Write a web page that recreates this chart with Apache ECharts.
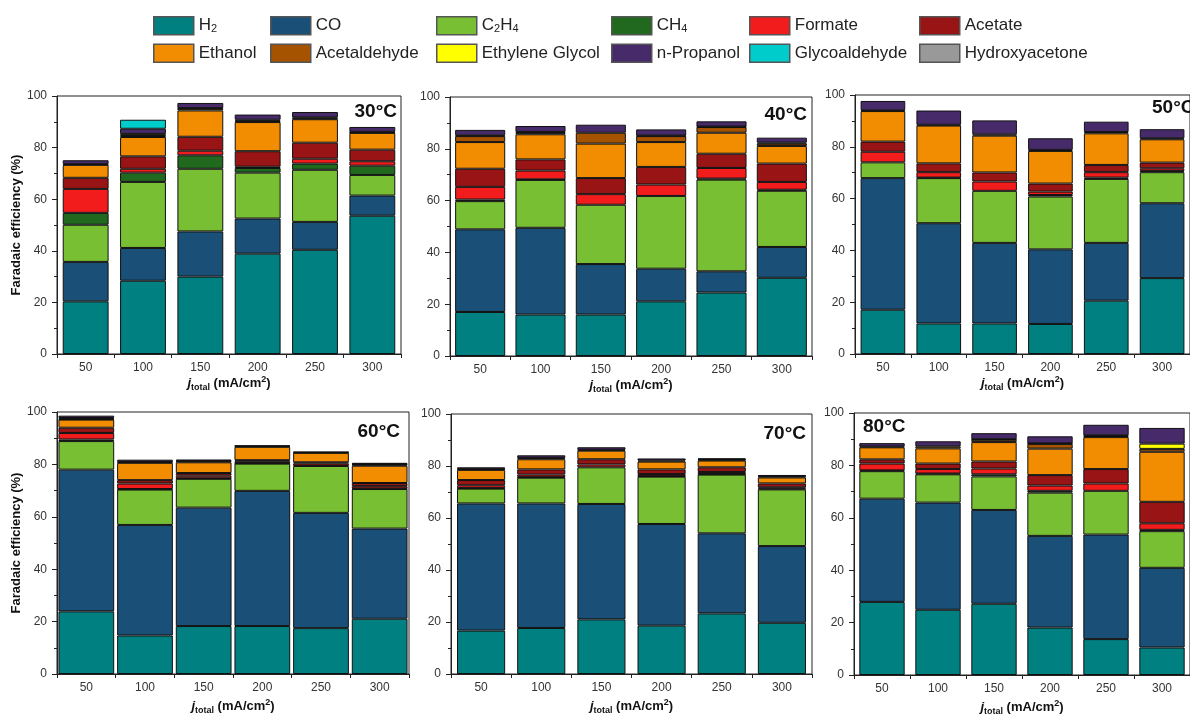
<!DOCTYPE html>
<html>
<head>
<meta charset="utf-8">
<script src="https://cdn.jsdelivr.net/npm/echarts@6/dist/echarts.min.js"></script>
<style>
html,body{margin:0;padding:0;background:#fff;}
#c{width:1190px;height:717px;}
</style>
</head>
<body>
<div id="c"></div>
<script>
// ---- data ----
const categories = ['50', '100', '150', '200', '250', '300'];
const temperatures = ['30°C', '40°C', '50°C', '60°C', '70°C', '80°C'];
const yTicks = [0, 20, 40, 60, 80, 100];
const productNames = ['H2', 'CO', 'C2H4', 'CH4', 'Formate', 'Acetate', 'Ethanol', 'Acetaldehyde', 'Ethylene Glycol', 'n-Propanol', 'Glycoaldehyde', 'Hydroxyacetone'];
const productColors = ['#008080', '#1a4f77', '#78bf33', '#21691f', '#f21c1c', '#991414', '#f28c00', '#a65300', '#ffff00', '#472a6a', '#00cccc', '#999999'];

// each row: one temperature panel (30..80 °C), values for j = 50..300
const H2 = [
  [20.4, 28.4, 30.0, 38.9, 40.4, 53.6],
  [17.0, 16.0, 16.0, 21.1, 24.5, 30.2],
  [17.1, 11.8, 11.8, 11.6, 20.6, 29.3],
  [23.9, 14.7, 18.3, 18.3, 17.5, 21.1],
  [16.7, 17.7, 21.0, 18.6, 23.3, 19.7],
  [27.9, 24.9, 27.2, 18.1, 13.7, 10.5]
];
const CO = [
  [15.3, 12.7, 17.5, 13.6, 10.8, 7.8],
  [31.9, 33.5, 19.5, 12.6, 8.2, 11.9],
  [50.8, 38.7, 31.1, 28.8, 22.3, 28.9],
  [54.1, 42.2, 45.2, 51.6, 44.0, 34.4],
  [48.9, 47.9, 44.4, 39.1, 30.8, 29.5],
  [39.4, 40.9, 35.8, 35.0, 39.9, 30.4]
];
const C2H4 = [
  [14.4, 25.6, 24.3, 17.8, 20.2, 8.0],
  [10.9, 18.5, 22.9, 28.1, 35.4, 21.7],
  [6.1, 17.4, 20.1, 20.4, 24.7, 12.0],
  [10.9, 13.5, 11.0, 10.4, 17.9, 15.1],
  [5.7, 9.9, 14.1, 18.2, 22.6, 21.8],
  [10.5, 10.8, 12.8, 16.5, 16.7, 14.0]
];
const CH4 = [
  [4.6, 3.6, 5.2, 1.8, 2.4, 3.6],
  [0.6, 0.2, 0, 0, 0.4, 0.4],
  [0, 0.2, 0, 0.6, 0.5, 0.5],
  [0.6, 0.2, 0.2, 0.2, 0, 0.2],
  [0.2, 0.2, 0, 0.2, 0.2, 0.3],
  [0.3, 0.3, 0.8, 0.7, 0, 0.5]
];
const Formate = [
  [9.3, 1.5, 1.8, 0.5, 1.9, 1.7],
  [4.9, 3.4, 4.1, 4.4, 4.1, 3.0],
  [4.1, 2.1, 3.6, 1.3, 2.1, 1.0],
  [2.5, 2.1, 1.0, 0.7, 0.9, 0.9],
  [1.1, 1.0, 1.1, 0.8, 0.8, 0.5],
  [2.6, 1.7, 2.2, 2.0, 2.8, 2.5]
];
const Acetate = [
  [4.3, 4.8, 5.4, 6.0, 6.2, 4.5],
  [7.0, 4.3, 6.2, 6.8, 5.5, 7.1],
  [3.9, 3.4, 3.5, 3.1, 2.8, 2.2],
  [2.0, 1.3, 1.0, 0.4, 0.5, 1.2],
  [2.0, 2.0, 2.0, 1.8, 1.8, 1.5],
  [1.6, 2.1, 2.7, 4.0, 5.5, 8.2]
];
const Ethanol = [
  [5.0, 7.5, 10.2, 11.3, 9.1, 6.5],
  [10.3, 9.7, 13.3, 9.6, 8.1, 6.8],
  [11.8, 14.6, 14.2, 12.6, 12.2, 9.0],
  [3.1, 6.6, 4.1, 5.1, 3.6, 6.6],
  [3.9, 3.9, 3.3, 3.0, 2.6, 2.3],
  [4.6, 5.8, 7.4, 10.1, 12.2, 19.1]
];
const Acetaldehyde = [
  [0.3, 0.4, 0.7, 0.5, 0.3, 0.2],
  [2.3, 0.6, 4.2, 2.3, 2.2, 0.9],
  [0.3, 0.3, 0.5, 0.4, 0.5, 0.4],
  [0.2, 0.3, 0.4, 0.3, 0.2, 0.4],
  [0.3, 0.5, 0.3, 0.4, 0.3, 0.4],
  [0.3, 0.8, 0.9, 1.8, 0.4, 1.1]
];
const EthyleneGlycol = [
  [0, 0.8, 0.2, 0.4, 0.4, 0.2],
  [0.3, 0.3, 0, 0.2, 0.2, 0.4],
  [0, 0, 0, 0, 0, 0],
  [0.4, 0, 0.2, 0, 0, 0.2],
  [0, 0, 0, 0, 0.2, 0.2],
  [0, 0, 0.2, 0.2, 0.3, 2.0]
];
const nPropanol = [
  [1.5, 2.0, 2.0, 2.0, 2.1, 1.9],
  [2.1, 2.3, 3.1, 2.4, 2.0, 1.9],
  [3.6, 5.5, 5.4, 4.5, 4.0, 3.5],
  [0.9, 0.9, 0.4, 0.2, 0.2, 0.5],
  [0.7, 1.0, 1.0, 0.8, 0.3, 0.3],
  [1.3, 1.9, 2.3, 2.7, 4.0, 6.0]
];
const Glycoaldehyde = [
  [0, 3.5, 0, 0, 0, 0],
  [0, 0, 0, 0, 0, 0],
  [0, 0, 0, 0, 0, 0],
  [0, 0, 0, 0, 0, 0],
  [0, 0, 0, 0, 0, 0],
  [0, 0, 0, 0, 0, 0]
];
const Hydroxyacetone = [
  [0, 0, 0, 0, 0, 0],
  [0, 0, 0, 0, 0, 0],
  [0, 0, 0, 0, 0, 0],
  [0, 0, 0, 0, 0, 0],
  [0, 0, 0, 0, 0, 0],
  [0, 0, 0, 0, 0, 0]
];
const productData = [H2, CO, C2H4, CH4, Formate, Acetate, Ethanol, Acetaldehyde, EthyleneGlycol, nPropanol, Glycoaldehyde, Hydroxyacetone];

// ---- layout ----
const FONT = "'Liberation Sans', Arial, sans-serif";
const panels = [
  {left: 57,  top: 96,  width: 344, height: 258, bw: '80%', yName: true,  nameGap: 21, t: {right: 793, top: 102}},
  {left: 450, top: 97,  width: 362, height: 259, bw: '83%', yName: false, nameGap: 21, t: {right: 383, top: 105}},
  {left: 855, top: 95,  width: 345, height: 259, bw: '80%', yName: false, nameGap: 21, t: {left: 1152, top: 98}},
  {left: 57,  top: 412, width: 352, height: 262, bw: '95%', yName: true,  nameGap: 24, t: {right: 790, top: 422}},
  {left: 451, top: 414, width: 361, height: 260, bw: '80%', yName: false, nameGap: 24, t: {right: 384, top: 424}},
  {left: 854, top: 413, width: 350, height: 267, bw: '81%', yName: false, nameGap: 24, t: {left: 863, top: 417}}
];

const grids = [], xAxes = [], yAxes = [], series = [], titles = [];
panels.forEach((p, i) => {
  grids.push({left: p.left, top: p.top, width: p.width, height: p.height, show: true, borderColor: '#222', borderWidth: 1, backgroundColor: 'transparent', containLabel: false});
  xAxes.push({
    type: 'category', gridIndex: i, data: categories,
    axisLine: {lineStyle: {color: '#222', width: 1}},
    axisTick: {show: true, length: 4, lineStyle: {color: '#222'}},
    axisLabel: {color: '#333', fontSize: 12, fontFamily: FONT, margin: 8},
    name: '{j|j}{sub|total}{n| (mA/cm}{sup|2}{n|)}',
    nameLocation: 'middle', nameGap: p.nameGap,
    nameTextStyle: {
      fontFamily: FONT, fontWeight: 'bold', fontSize: 13, color: '#111',
      rich: {
        j: {fontSize: 13, fontWeight: 'bold', fontStyle: 'italic', fontFamily: FONT, lineHeight: 17, color: '#111'},
        n: {fontSize: 13, fontWeight: 'bold', fontFamily: FONT, lineHeight: 17, color: '#111'},
        sub: {fontSize: 9, fontWeight: 'bold', fontFamily: FONT, lineHeight: 9, verticalAlign: 'bottom', color: '#111'},
        sup: {fontSize: 9, fontWeight: 'bold', fontFamily: FONT, lineHeight: 9, verticalAlign: 'top', color: '#111'}
      }
    }
  });
  yAxes.push({
    type: 'value', gridIndex: i, min: yTicks[0], max: yTicks[yTicks.length - 1], interval: 20,
    axisLine: {show: true, lineStyle: {color: '#222', width: 1}},
    axisTick: {show: true, length: 5, lineStyle: {color: '#222'}},
    minorTick: {show: true, splitNumber: 2, length: 3, lineStyle: {color: '#222'}},
    splitLine: {show: false},
    axisLabel: {color: '#333', fontSize: 12, fontFamily: FONT, margin: 10},
    name: p.yName ? 'Faradaic efficiency (%)' : '',
    nameLocation: 'middle', nameGap: 31,
    nameTextStyle: {fontFamily: FONT, fontWeight: 'bold', fontSize: 13, color: '#111'}
  });
  titles.push(Object.assign({
    text: temperatures[i], padding: 0,
    textStyle: {fontFamily: FONT, fontWeight: 'bold', fontSize: 19, color: '#111'}
  }, p.t));
  productNames.forEach((name, k) => {
    series.push({
      type: 'bar', name: name, stack: 'panel' + i,
      xAxisIndex: i, yAxisIndex: i, barWidth: p.bw,
      data: productData[k][i].map(v => (v > 0 ? v : '-')),
      itemStyle: {color: productColors[k], borderColor: '#111', borderWidth: 1},
      emphasis: {disabled: true},
      animation: false
    });
  });
});

const legendCols = [
  [0, 6, 153], [1, 7, 270], [2, 8, 436], [3, 9, 611], [4, 10, 749], [5, 11, 919]
];
const legendLabel = {'H2': 'H{s|2}', 'C2H4': 'C{s|2}H{s|4}', 'CH4': 'CH{s|4}'};
const legends = legendCols.map(c => ({
  orient: 'vertical', left: c[2], top: 16, padding: 0,
  itemWidth: 40, itemHeight: 18, itemGap: 8,
  icon: 'rect', selectedMode: false,
  data: [productNames[c[0]], productNames[c[1]]],
  itemStyle: {borderColor: '#555', borderWidth: 1.5},
  formatter: n => legendLabel[n] || n,
  textStyle: {
    fontFamily: FONT, fontSize: 17, color: '#222', lineHeight: 18,
    rich: {s: {fontFamily: FONT, fontSize: 11, lineHeight: 9, verticalAlign: 'bottom', color: '#222'}}
  }
}));

const chart = echarts.init(document.getElementById('c'), null, {renderer: 'canvas'});
chart.setOption({
  backgroundColor: '#fff',
  animation: false,
  title: titles,
  legend: legends,
  grid: grids,
  xAxis: xAxes,
  yAxis: yAxes,
  series: series
});
</script>
</body>
</html>
